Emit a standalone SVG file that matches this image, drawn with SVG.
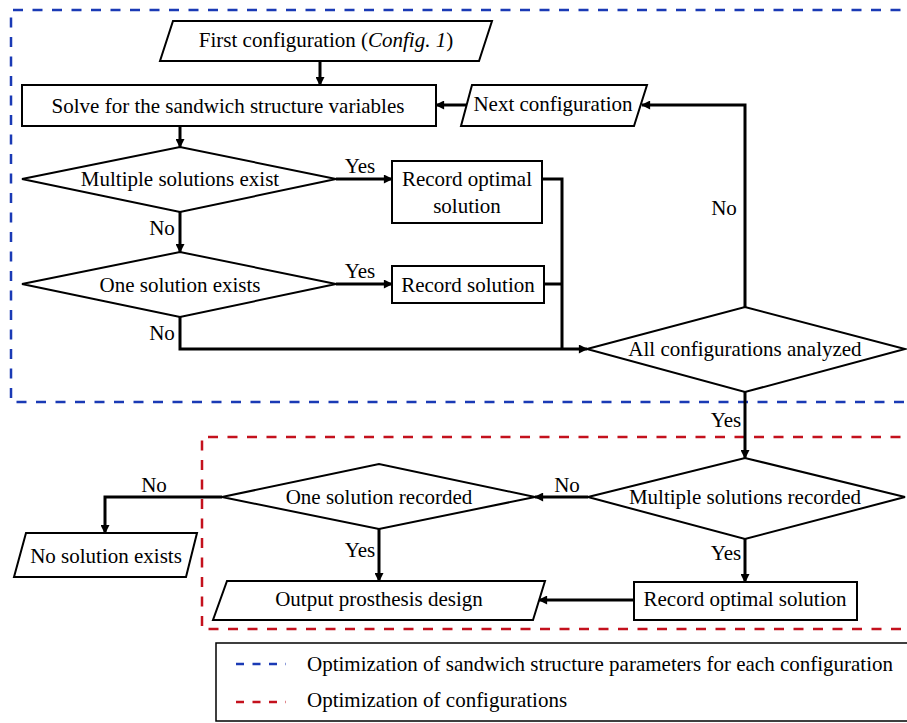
<svg xmlns="http://www.w3.org/2000/svg" width="907" height="723" viewBox="0 0 907 723">
<defs>
<marker id="ah" viewBox="0 0 10 10" refX="9" refY="5" markerWidth="10" markerHeight="9" markerUnits="userSpaceOnUse" orient="auto">
<path d="M0,0 L10,5 L0,10 z" fill="#000"/>
</marker>
</defs>
<style>
text{font-family:"Liberation Serif","Times New Roman",serif;font-size:21px;fill:#000;text-anchor:middle}
.node{fill:#fff;stroke:#000;stroke-width:2}
.conn{fill:none;stroke:#000;stroke-width:3}
.arr{marker-end:url(#ah)}
.blue{fill:none;stroke:#1a3ab5;stroke-width:2.5;stroke-dasharray:10 9.5}
.red{fill:none;stroke:#c4111d;stroke-width:2.5;stroke-dasharray:10 9.5}
</style>
<rect width="907" height="723" fill="#fff"/>
<g id="regions">
<path class="blue" d="M920,10 H11 V402 H920"/>
<path class="red" d="M920,437 H202 V629 H920"/>
</g>
<g id="connectors">
<path class="conn arr" d="M320,61 V85"/>
<path class="conn arr" d="M180,126 V147"/>
<path class="conn arr" d="M336,179 H392"/>
<path class="conn arr" d="M180,212 V252"/>
<path class="conn arr" d="M336,284 H392"/>
<path class="conn" d="M542,179 H562 V349"/>
<path class="conn" d="M544,284 H562"/>
<path class="conn arr" d="M180,317 V349 H587"/>
<path class="conn arr" d="M745,307 V105 H642"/>
<path class="conn arr" d="M466,105 H436"/>
<path class="conn arr" d="M745,392 V458"/>
<path class="conn arr" d="M588,497 H535"/>
<path class="conn arr" d="M222,497 H105 V533"/>
<path class="conn arr" d="M379,529 V581"/>
<path class="conn arr" d="M745,539 V582"/>
<path class="conn arr" d="M634,600 H539"/>
<text x="360" y="173">Yes</text>
<text x="162" y="235">No</text>
<text x="360" y="278">Yes</text>
<text x="162" y="340">No</text>
<text x="724" y="215">No</text>
<text x="726" y="427">Yes</text>
<text x="567" y="492">No</text>
<text x="726" y="560">Yes</text>
<text x="154" y="492">No</text>
<text x="360" y="557">Yes</text>
</g>
<g id="first-config">
<polygon class="node" points="173,21 492,21 479,61 160,61"/>
<text x="326" y="47">First configuration (<tspan font-style="italic">Config. 1</tspan>)</text>
</g>
<g id="solve">
<rect class="node" x="22" y="85" width="414" height="41"/>
<text x="228" y="113">Solve for the sandwich structure variables</text>
</g>
<g id="next-config">
<polygon class="node" points="472,85 647,85 634,126 461,126"/>
<text x="553" y="111">Next configuration</text>
</g>
<g id="multiple-exist">
<polygon class="node" points="22,179 180,147 336,179 180,212"/>
<text x="180" y="186">Multiple solutions exist</text>
</g>
<g id="record-optimal-1">
<rect class="node" x="392" y="161" width="150" height="62"/>
<text x="467" y="186">Record optimal</text>
<text x="467" y="213">solution</text>
</g>
<g id="one-exists">
<polygon class="node" points="22,284 180,252 336,284 180,317"/>
<text x="180" y="292">One solution exists</text>
</g>
<g id="record-solution">
<rect class="node" x="392" y="266" width="152" height="37"/>
<text x="468" y="292">Record solution</text>
</g>
<g id="all-analyzed">
<polygon class="node" points="587,349 745,307 905,349 745,392"/>
<text x="745" y="356">All configurations analyzed</text>
</g>
<g id="multiple-recorded">
<polygon class="node" points="588,497 745,458 905,497 745,539"/>
<text x="745" y="504">Multiple solutions recorded</text>
</g>
<g id="one-recorded">
<polygon class="node" points="222,497 379,464 535,497 379,529"/>
<text x="379" y="504">One solution recorded</text>
</g>
<g id="no-solution">
<polygon class="node" points="26,533 197,533 186,577 14,577"/>
<text x="106" y="563">No solution exists</text>
</g>
<g id="output-design">
<polygon class="node" points="227,581 545,581 533,620 213,620"/>
<text x="379" y="606">Output prosthesis design</text>
</g>
<g id="record-optimal-2">
<rect class="node" x="634" y="582" width="223" height="38"/>
<text x="745" y="606">Record optimal solution</text>
</g>
<g id="legend">
<rect x="216" y="643" width="720" height="78" fill="#fff" stroke="#000" stroke-width="1.5"/>
<line x1="236" y1="664" x2="286" y2="664" stroke="#1a3ab5" stroke-width="2.5" stroke-dasharray="8 8.5"/>
<line x1="236" y1="702" x2="286" y2="702" stroke="#c4111d" stroke-width="2.5" stroke-dasharray="8 8.5"/>
<text x="307" y="671" style="text-anchor:start">Optimization of sandwich structure parameters for each configuration</text>
<text x="307" y="707" style="text-anchor:start">Optimization of configurations</text>
</g>
</svg>
